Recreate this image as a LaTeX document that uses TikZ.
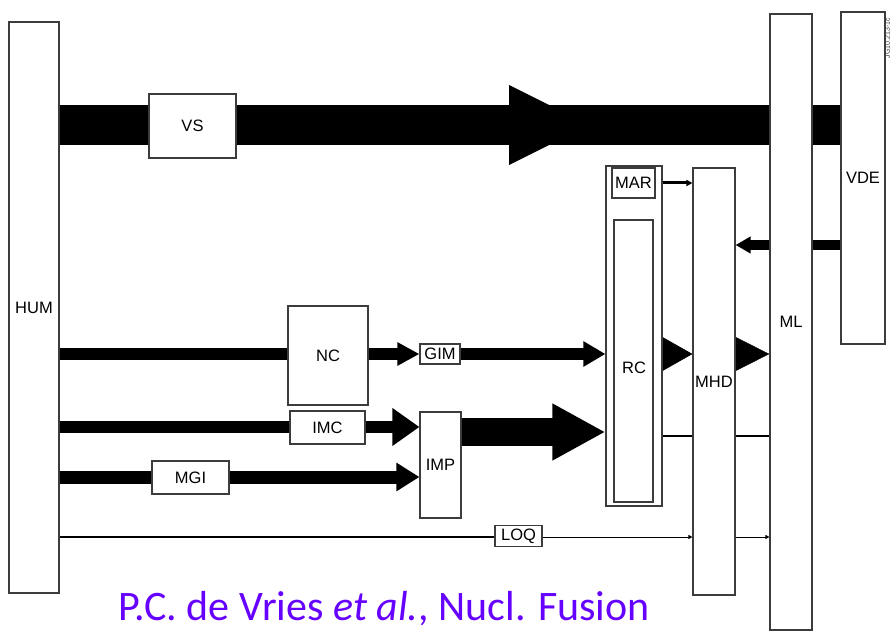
\documentclass[tikz,border=0pt]{standalone}
\usepackage{fontspec}
\setmainfont{Liberation Sans}
\newfontfamily\citefont{Carlito}
\usetikzlibrary{arrows.meta}
\pgfdeclarelayer{bg}
\pgfsetlayers{bg,main}
\definecolor{boxline}{RGB}{60,60,60}
\definecolor{citeviolet}{RGB}{102,0,255}
\tikzset{
  blk/.style={draw=boxline, line width=1.1pt, fill=white, inner sep=0pt,
    font=\fontsize{16.5}{18}\selectfont},
  bar/.style={line width=#1, draw=black, line cap=butt},
  tri/.style 2 args={-{Triangle[length=#1,width=#2]}},
}
\begin{document}
\begin{tikzpicture}[x=1pt,y=-1pt]
\useasboundingbox (0,0) rectangle (892,631);

% row levels
\coordinate (rowVS) at (0,125);
\coordinate (rowMAR) at (0,183);
\coordinate (rowVDE) at (0,245);
\coordinate (rowNC) at (0,354);
\coordinate (rowIMC) at (0,427);
\coordinate (rowIMP) at (0,432);
\coordinate (rowSig) at (0,436);
\coordinate (rowMGI) at (0,477);
\coordinate (rowLOQ) at (0,537);

% boxes
\node[blk, minimum width=50pt, minimum height=571pt] (HUM) at (34,307.5) {HUM};
\node[blk, minimum width=42pt, minimum height=616pt] (ML) at (791,322) {ML};
\node[blk, minimum width=44pt, minimum height=332pt] (VDE) at (863,178) {VDE};
\node[blk, minimum width=87pt, minimum height=64pt] (VS) at (192.5,126) {VS};
\node[blk, minimum width=56pt, minimum height=340pt] (RCbox) at (634,336) {};
\node[blk, minimum width=43pt, minimum height=30pt] (MAR) at (633.5,183) {MAR};
\node[blk, minimum width=39pt, minimum height=282pt] (RCin) at (633.5,361) {};
\node[font=\fontsize{16.5}{18}\selectfont, inner sep=0pt] (RClab) at (634,368) {RC};
\node[blk, minimum width=42pt, minimum height=427pt] (MHD) at (714,381.5) {MHD};
\node[blk, minimum width=80pt, minimum height=99pt] (NC) at (328,355.5) {NC};
\node[blk, minimum width=40pt, minimum height=20pt] (GIM) at (440,354) {GIM};
\node[blk, minimum width=75pt, minimum height=33pt] (IMC) at (327.5,427.5) {IMC};
\node[blk, minimum width=41pt, minimum height=106pt] (IMP) at (440.5,465) {IMP};
\node[blk, minimum width=77pt, minimum height=33pt] (MGI) at (190.5,477.5) {MGI};
\node[blk, minimum width=47pt, minimum height=21pt] (LOQ) at (518.5,536) {LOQ};

\node[rotate=90, inner sep=0pt, text=boxline, font=\fontsize{7}{8}\selectfont] (tag) at (887.5,38) {JG10.213-1c};

\node[anchor=base west, inner sep=0pt, text=citeviolet,
  font=\citefont\fontsize{42}{50}\selectfont] (cite) at (118,620)
  {P.C. de Vries \textit{et al.}, Nucl. Fusion};

\begin{pgfonlayer}{bg}
  % VS main bar
  \draw[bar=40pt] (HUM.east |- rowVS) -- (VDE.west |- rowVS);
  \fill (509,85) -- (589,125) -- (509,165) -- cycle;
  % NC row
  \draw[bar=12pt] (HUM.east |- rowNC) -- (NC.west |- rowNC);
  \draw[bar=12pt, tri={22pt}{22pt}] (NC.east |- rowNC) -- (GIM.west |- rowNC);
  \draw[bar=12pt, tri={22pt}{24pt}] (GIM.east |- rowNC) -- (RCbox.west |- rowNC);
  % IMC row
  \draw[bar=12pt] (HUM.east |- rowIMC) -- (IMC.west |- rowIMC);
  \draw[bar=12pt, tri={27pt}{36pt}] (IMC.east |- rowIMC) -- (IMP.west |- rowIMC);
  % MGI row
  \draw[bar=13pt] (HUM.east |- rowMGI) -- (MGI.west |- rowMGI);
  \draw[bar=13pt, tri={23pt}{27pt}] (MGI.east |- rowMGI) -- (IMP.west |- rowMGI);
  % IMP to RC
  \draw[bar=28pt, tri={53pt}{53pt}] (IMP.east |- rowIMP) -- (RCbox.west |- rowIMP);
  % RC -> MHD -> ML
  \draw[bar=0.5pt, tri={31pt}{35pt}] (RCbox.east |- rowNC) -- (MHD.west |- rowNC);
  \draw[bar=0.5pt, tri={35pt}{35pt}] (MHD.east |- rowNC) -- (ML.west |- rowNC);
  % thin signal lines
  \draw[bar=1.3pt] (RCbox.east |- rowSig) -- (MHD.west |- rowSig);
  \draw[bar=1.3pt] (MHD.east |- rowSig) -- (ML.west |- rowSig);
  % MAR -> MHD
  \draw[bar=3pt, tri={6pt}{6pt}] (RCbox.east |- rowMAR) -- (MHD.west |- rowMAR);
  % VDE -> MHD
  \draw[bar=10pt, tri={15pt}{16pt}] (VDE.west |- rowVDE) -- (MHD.east |- rowVDE);
  % LOQ line
  \draw[bar=1.5pt] (HUM.east |- rowLOQ) -- (LOQ.west |- rowLOQ);
  \draw[bar=0.9pt, tri={4pt}{4pt}] (LOQ.east |- rowLOQ) -- (MHD.west |- rowLOQ);
  \draw[bar=0.9pt, tri={4pt}{4pt}] (MHD.east |- rowLOQ) -- (ML.west |- rowLOQ);
\end{pgfonlayer}
\end{tikzpicture}
\end{document}
